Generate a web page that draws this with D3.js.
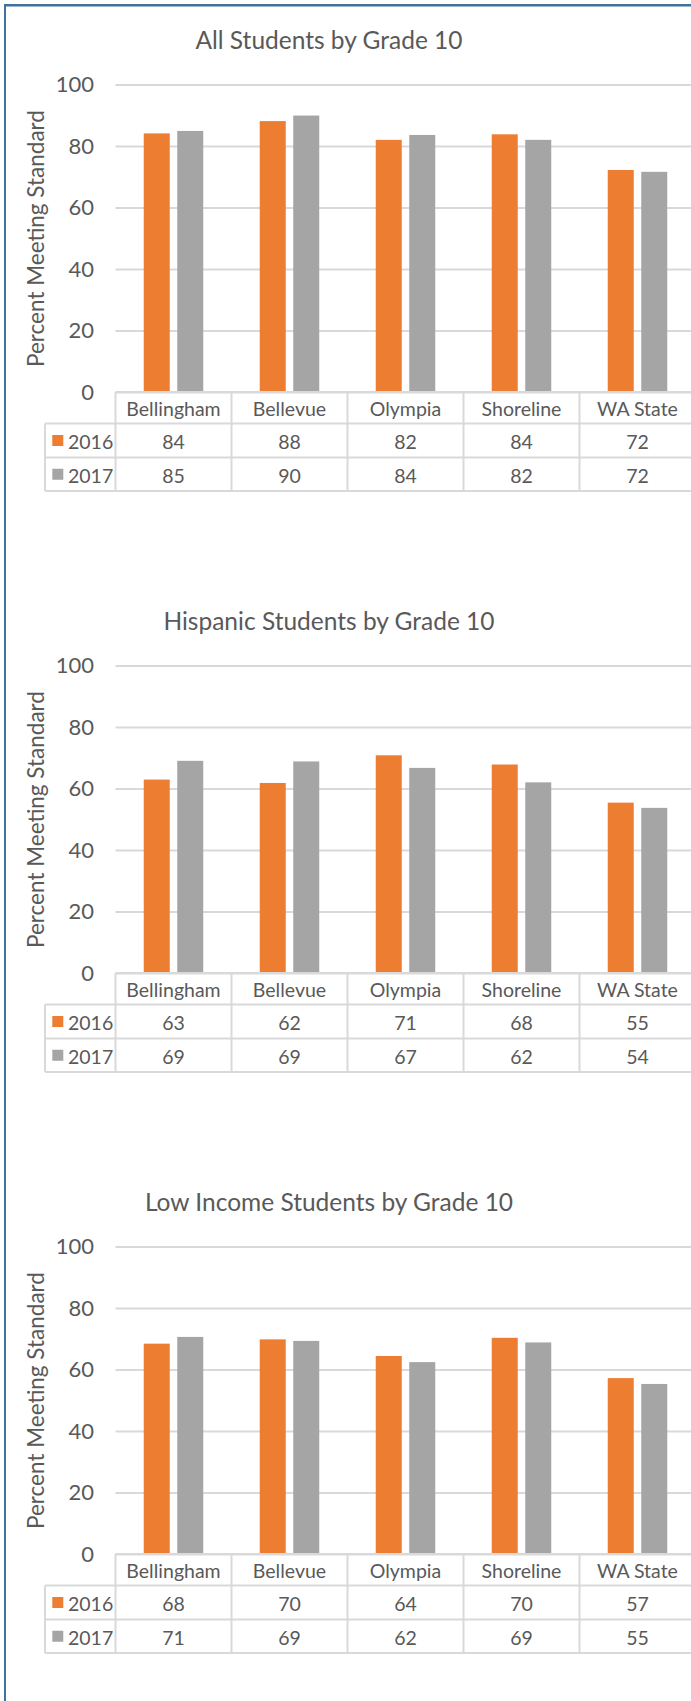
<!DOCTYPE html>
<html>
<head>
<meta charset="utf-8">
<script src="https://cdn.jsdelivr.net/npm/d3@7"></script>
<style>
  html, body { margin: 0; padding: 0; background: #ffffff; }
  svg { display: block; }
  text { font-family: Lato, "Open Sans", sans-serif; fill: #595959; }
</style>
</head>
<body>
<svg id="chart" width="691" height="1701"></svg>
<script>
// ---------- data ----------
const categories = ["Bellingham", "Bellevue", "Olympia", "Shoreline", "WA State"];
const seriesNames = ["2016", "2017"];
const seriesColors = ["#ED7D31", "#A5A5A5"];
const yTicks = [0, 20, 40, 60, 80, 100];
const yAxisTitle = "Percent Meeting Standard";

const chartTitles = [
  "All Students by Grade 10",
  "Hispanic Students by Grade 10",
  "Low Income Students by Grade 10"
];

const allStudents2016 = [84.1, 88.1, 82.0, 83.8, 72.2];
const allStudents2017 = [84.9, 89.9, 83.6, 82.0, 71.6];

const hispanic2016 = [62.9, 61.8, 70.8, 67.8, 55.4];
const hispanic2017 = [69.0, 68.8, 66.7, 62.0, 53.7];

const lowIncome2016 = [68.4, 69.8, 64.4, 70.3, 57.2];
const lowIncome2017 = [70.6, 69.3, 62.4, 68.8, 55.3];

const chartSeries = [
  [allStudents2016, allStudents2017],
  [hispanic2016, hispanic2017],
  [lowIncome2016, lowIncome2017]
];

// ---------- layout ----------
const W = 691, H = 1701;
const svg = d3.select("#chart");
svg.append("rect").attr("width", W).attr("height", H).attr("fill", "#fff");

const chartStep = 581;
const plotLeft = 115.5, plotRight = 695.5;
const legendLeft = 45;
const gridColor = "#D9D9D9";
const fmt = d3.format(".0f");

function drawChart(idx) {
  const off = idx * chartStep;
  const g = svg.append("g").attr("transform", `translate(0,${off})`);
  const series = chartSeries[idx];

  const y0 = 392, y100 = 84.5;
  const y = d3.scaleLinear().domain([0, 100]).range([y0, y100]);
  const x = d3.scaleBand().domain(categories).range([plotLeft, plotRight]);
  const xi = d3.scaleBand().domain(seriesNames).range([0, x.bandwidth()])
    .paddingInner(0.224).paddingOuter(0.843);

  // title
  g.append("text")
    .attr("x", 329).attr("y", 49)
    .attr("text-anchor", "middle")
    .attr("font-size", 24.5)
    .text(chartTitles[idx]);

  // y axis with gridlines
  const yAxis = d3.axisLeft(y).tickValues(yTicks)
    .tickSizeInner(-(W - plotLeft)).tickSizeOuter(0).tickPadding(21.5)
    .tickFormat(d3.format("d"));
  const ga = g.append("g").attr("transform", `translate(${plotLeft},0)`).call(yAxis);
  ga.select(".domain").remove();
  ga.selectAll(".tick line").attr("stroke", gridColor).attr("stroke-width", 2);
  ga.selectAll(".tick text")
    .attr("font-size", 22).attr("fill", "#595959")
    .attr("font-family", "Lato, 'Open Sans', sans-serif");

  // y axis title
  g.append("text")
    .attr("transform", `translate(35,238.5) rotate(-90)`)
    .attr("text-anchor", "middle")
    .attr("dominant-baseline", "central")
    .attr("font-size", 22.5)
    .text(yAxisTitle);

  // bars
  seriesNames.forEach((s, si) => {
    g.append("g").selectAll("rect")
      .data(series[si])
      .join("rect")
      .attr("x", (d, i) => x(categories[i]) + xi(s))
      .attr("width", xi.bandwidth())
      .attr("y", d => y(d))
      .attr("height", d => y(0) - y(d))
      .attr("fill", seriesColors[si]);
  });

  // data table
  const rowTop = [392, 423.5, 457.5, 491];
  const tg = g.append("g");
  const line = (x1, y1, x2, y2) => tg.append("line")
    .attr("x1", x1).attr("y1", y1).attr("x2", x2).attr("y2", y2)
    .attr("stroke", gridColor).attr("stroke-width", 2);

  line(plotLeft, rowTop[0], plotRight, rowTop[0]);
  line(legendLeft, rowTop[1], plotRight, rowTop[1]);
  line(legendLeft, rowTop[2], plotRight, rowTop[2]);
  line(legendLeft, rowTop[3], plotRight, rowTop[3]);
  line(legendLeft, rowTop[1], legendLeft, rowTop[3]);
  categories.forEach(c => line(x(c), rowTop[0], x(c), rowTop[3]));
  line(plotRight, rowTop[0], plotRight, rowTop[3]);

  const tableFont = 19.5;
  // category labels
  tg.selectAll("text.cat").data(categories).join("text")
    .attr("class", "cat")
    .attr("x", d => x(d) + x.bandwidth() / 2)
    .attr("y", (rowTop[0] + rowTop[1]) / 2 + 1)
    .attr("text-anchor", "middle")
    .attr("dominant-baseline", "central")
    .attr("font-size", tableFont)
    .text(d => d);

  // series rows
  seriesNames.forEach((s, si) => {
    const cy = (rowTop[si + 1] + rowTop[si + 2]) / 2;
    tg.append("rect")
      .attr("x", 52.3).attr("y", cy - 5.5)
      .attr("width", 11).attr("height", 11)
      .attr("fill", seriesColors[si]);
    tg.append("text")
      .attr("x", 68).attr("y", cy + 1)
      .attr("dominant-baseline", "central")
      .attr("font-size", tableFont)
      .text(s);
    tg.selectAll("text.v" + si).data(series[si]).join("text")
      .attr("class", "v" + si)
      .attr("x", (d, i) => x(categories[i]) + x.bandwidth() / 2)
      .attr("y", cy + 1)
      .attr("text-anchor", "middle")
      .attr("dominant-baseline", "central")
      .attr("font-size", tableFont)
      .text(d => fmt(d));
  });
}

chartTitles.forEach((t, i) => drawChart(i));

// outer frame (left and top edges visible)
svg.append("line").attr("x1", 5).attr("y1", 4).attr("x2", 5).attr("y2", H)
  .attr("stroke", "#41719C").attr("stroke-width", 2);
svg.append("line").attr("x1", 4).attr("y1", 5.2).attr("x2", W).attr("y2", 5.2)
  .attr("stroke", "#41719C").attr("stroke-width", 2.5);
</script>
</body>
</html>
